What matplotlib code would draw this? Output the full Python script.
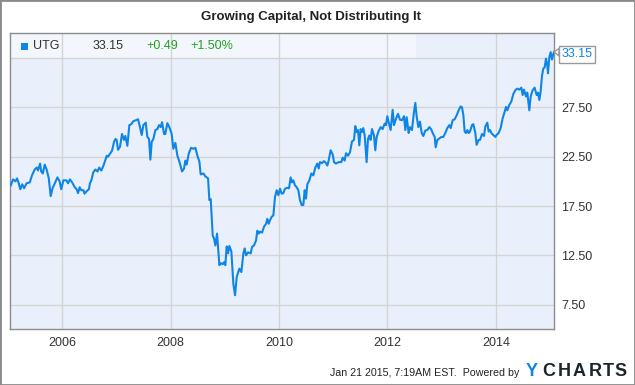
import matplotlib
matplotlib.use("Agg")
import matplotlib.pyplot as plt
from matplotlib.patches import Rectangle

plt.rcParams['font.family'] = ['Liberation Sans', 'DejaVu Sans']

# UTG price, dates as decimal years
dates = [
    2005.05, 2005.09, 2005.135, 2005.165, 2005.195, 2005.225, 2005.26, 2005.295, 2005.34, 2005.40,
    2005.44, 2005.49, 2005.53, 2005.55, 2005.59, 2005.61, 2005.64, 2005.675, 2005.71, 2005.75,
    2005.785, 2005.82, 2005.86, 2005.91, 2005.95, 2005.98, 2006.02, 2006.075, 2006.105, 2006.14,
    2006.18, 2006.23, 2006.265, 2006.29, 2006.32, 2006.35, 2006.39, 2006.41, 2006.45, 2006.49,
    2006.51, 2006.535, 2006.57, 2006.61, 2006.65, 2006.68, 2006.72, 2006.76, 2006.79, 2006.82,
    2006.843, 2006.88, 2006.917, 2006.954, 2006.98, 2007.003, 2007.027, 2007.064, 2007.101, 2007.138,
    2007.163, 2007.2, 2007.237, 2007.274, 2007.31, 2007.36, 2007.397, 2007.433,
    2007.465, 2007.495, 2007.539, 2007.569, 2007.6, 2007.625, 2007.649, 2007.68, 2007.717, 2007.754,
    2007.785, 2007.815, 2007.84, 2007.877, 2007.9, 2007.938, 2007.975, 2008.018, 2008.049, 2008.086,
    2008.123, 2008.16, 2008.209, 2008.246, 2008.27, 2008.295, 2008.332, 2008.375, 2008.418, 2008.455,
    2008.492, 2008.529, 2008.553, 2008.603, 2008.64, 2008.689, 2008.713, 2008.738, 2008.775, 2008.8,
    2008.824, 2008.855, 2008.873, 2008.898, 2008.928, 2008.959, 2008.984, 2009.008, 2009.033, 2009.058,
    2009.082, 2009.119, 2009.156, 2009.187, 2009.218, 2009.242, 2009.267, 2009.304, 2009.34, 2009.365,
    2009.39, 2009.427, 2009.476, 2009.5, 2009.537, 2009.574, 2009.599, 2009.623, 2009.648, 2009.685,
    2009.722, 2009.759, 2009.783, 2009.808, 2009.832,
    2009.863, 2009.894, 2009.924, 2009.955, 2009.986, 2010.017, 2010.047, 2010.078, 2010.109, 2010.152,
    2010.183, 2010.213, 2010.238, 2010.263, 2010.293, 2010.324, 2010.355, 2010.385, 2010.416, 2010.447,
    2010.472, 2010.496, 2010.521, 2010.558, 2010.595, 2010.631, 2010.668, 2010.705, 2010.73, 2010.754,
    2010.791, 2010.828, 2010.865, 2010.89, 2010.914, 2010.951, 2010.988, 2011.013, 2011.05, 2011.099,
    2011.148, 2011.173, 2011.21, 2011.234, 2011.271, 2011.308, 2011.345, 2011.382, 2011.406, 2011.431,
    2011.456, 2011.48, 2011.505, 2011.529, 2011.554, 2011.579, 2011.615, 2011.64, 2011.665, 2011.689,
    2011.714, 2011.751, 2011.775, 2011.8, 2011.837, 2011.874, 2011.911, 2011.948, 2011.972, 2011.997,
    2012.021, 2012.058, 2012.095, 2012.12, 2012.157, 2012.194, 2012.23,
    2012.268, 2012.305, 2012.329, 2012.354, 2012.391, 2012.415, 2012.452, 2012.489, 2012.514, 2012.538,
    2012.569, 2012.6, 2012.631, 2012.661, 2012.698, 2012.735, 2012.772, 2012.809, 2012.834, 2012.871,
    2012.889, 2012.92, 2012.957, 2012.994, 2013.03, 2013.067, 2013.104, 2013.141, 2013.166, 2013.203,
    2013.24, 2013.277, 2013.313, 2013.35, 2013.375, 2013.4, 2013.424, 2013.449, 2013.473, 2013.498,
    2013.522, 2013.559, 2013.584, 2013.621, 2013.645, 2013.682, 2013.707, 2013.744, 2013.781, 2013.805,
    2013.842, 2013.867, 2013.891, 2013.916, 2013.953, 2013.99, 2014.014, 2014.051, 2014.088, 2014.125,
    2014.162, 2014.187, 2014.211, 2014.248, 2014.285, 2014.322, 2014.359, 2014.396, 2014.433, 2014.47,
    2014.494, 2014.519, 2014.556, 2014.58, 2014.617, 2014.642, 2014.679, 2014.715, 2014.752, 2014.777,
    2014.802, 2014.826, 2014.851, 2014.876, 2014.9, 2014.925, 2014.949, 2014.962, 2014.986, 2015.011,
    2015.035, 2015.06, 2015.078,
]
prices = [
    19.6, 20.2, 20.0, 20.3, 19.8, 19.2, 19.7, 19.3, 19.8, 19.9,
    20.6, 21.2, 21.4, 21.1, 21.8, 21.0, 20.8, 21.7, 21.2, 20.3,
    18.5, 19.3, 19.8, 20.4, 20.0, 19.2, 20.1, 20.1, 19.8, 20.2,
    19.9, 19.4, 19.2, 18.8, 19.4, 19.1, 19.1, 18.75, 19.0, 19.2,
    19.8, 20.1, 20.9, 21.2, 21.0, 21.4, 21.1, 21.6, 22.1, 22.6,
    22.5, 22.8, 23.1, 24.0, 24.3, 24.2, 23.2, 23.5, 24.8, 24.2,
    24.6, 23.6, 25.7, 25.8, 26.1, 26.2, 26.3, 25.5,
    24.7, 25.7, 25.95, 24.5, 24.3, 22.2, 24.0, 24.3, 25.2, 25.3,
    25.7, 25.5, 26.0, 24.8, 24.8, 25.9, 25.5, 24.8, 23.3, 23.9,
    22.6, 22.0, 21.0, 21.3, 22.1, 21.7, 22.8, 23.4, 23.3, 23.4,
    22.6, 22.0, 20.7, 20.8, 20.5, 20.3, 18.1, 18.2, 14.5, 14.2,
    13.5, 14.7, 13.3, 11.5, 11.7, 11.6, 11.8, 11.5, 13.4, 12.7,
    13.45, 12.9, 9.6, 8.45, 10.3, 10.7, 11.15, 10.8, 12.7, 13.2,
    12.5, 12.8, 12.7, 13.35, 13.5, 14.0, 15.0, 14.7, 14.9, 14.8,
    15.4, 15.7, 16.2, 15.7, 16.05,
    16.4, 16.55, 18.4, 19.1, 18.6, 19.25, 18.75, 18.8, 19.25, 19.35,
    19.3, 20.4, 19.9, 20.1, 19.6, 19.4, 19.1, 18.1, 17.6, 17.6,
    19.1, 18.25, 19.7, 20.1, 20.8, 20.6, 21.4, 21.8, 21.3, 21.95,
    21.85, 22.05, 21.85, 21.6, 22.1, 23.15, 22.75, 21.95, 21.8, 21.95,
    21.95, 22.4, 22.1, 22.85, 22.6, 22.95, 24.05, 24.2, 25.6, 25.0,
    25.2, 23.65, 25.3, 25.0, 25.4, 24.65, 21.95, 24.3, 24.65, 24.2,
    25.3, 24.65, 23.15, 24.5, 25.1, 25.5, 25.3, 25.85, 25.7, 26.6,
    26.0, 25.2, 27.25, 25.7, 26.35, 26.85, 26.25,
    26.2, 26.6, 25.2, 26.5, 24.9, 25.5, 25.2, 27.05, 27.95, 26.6,
    25.5, 26.05, 24.9, 24.6, 25.15, 25.2, 25.5, 25.25, 24.9, 24.5,
    23.45, 24.2, 24.35, 24.5, 24.5, 24.9, 25.4, 25.7, 25.4, 26.2,
    26.3, 26.7, 27.2, 27.6, 27.5, 26.7, 25.05, 24.9, 25.2, 24.9,
    25.05, 25.7, 25.8, 24.9, 23.7, 24.2, 24.2, 24.8, 24.6, 25.55,
    25.95, 25.05, 25.2, 24.9, 24.7, 24.5, 24.7, 24.9, 25.4, 26.4,
    27.05, 27.55, 27.2, 27.75, 28.1, 28.85, 29.25, 29.4, 29.3, 29.5,
    28.75, 29.3, 28.6, 29.0, 27.2, 28.6, 29.25, 29.5, 28.75, 29.0,
    28.25, 29.1, 30.7, 31.45, 31.55, 32.45, 31.7, 30.95, 32.6, 33.1,
    32.35, 32.9, 33.15,
]

ticker = "UTG"
last_price = "33.15"
change = "+0.49"
change_pct = "+1.50%"
year_ticks = [2006, 2008, 2010, 2012, 2014]
price_ticks = [7.5, 12.5, 17.5, 22.5, 27.5, 32.5]

W, H = 635, 385
line_color = '#0f85e6'
grey = '#333333'

fig = plt.figure(figsize=(W / 100, H / 100), dpi=100)
ax = fig.add_axes([10.3 / W, 1 - 329 / H, 544 / W, 296 / H])
ax.set_facecolor('#eaf0fb')

ax.plot(dates, prices, color=line_color, lw=1.5, zorder=3)
ax.set_xlim(2005.04, 2015.078)
ax.set_ylim(5.03, 35.04)

ax.set_xticks(year_ticks)
ax.set_xticklabels([str(y) for y in year_ticks])
ax.set_yticks(price_ticks)
ax.set_yticklabels(['%.2f' % p for p in price_ticks])
ax.yaxis.tick_right()
ax.tick_params(length=0, labelsize=9, colors=grey)
ax.tick_params(axis='x', pad=6)
ax.tick_params(axis='y', pad=5)
ax.grid(True, color='#d4d4d4', lw=1)
for s in ax.spines.values():
    s.set_color('#8c8c8c')
    s.set_linewidth(1)

# legend strip across the top
ax.add_patch(Rectangle((0, 1 - 25.3 / 296), 406 / 544, 25.3 / 296, transform=ax.transAxes,
                       fc='white', alpha=0.45, lw=0, zorder=1))
ax.add_patch(Rectangle((10.5 / 544, 1 - 17.5 / 296), 7 / 544, 7 / 296, transform=ax.transAxes,
                       fc=line_color, lw=0, zorder=4))
ty = 1 - 13.5 / 296
ax.text(23 / 544, ty, ticker, transform=ax.transAxes, fontsize=9, color=grey, va='center')
ax.text(82.5 / 544, ty, last_price, transform=ax.transAxes, fontsize=9, color=grey, va='center')
ax.text(136.5 / 544, ty, change, transform=ax.transAxes, fontsize=9, color='#22a022', va='center')
ax.text(180 / 544, ty, change_pct, transform=ax.transAxes, fontsize=9, color='#22a022', va='center')

# last value callout on the right axis
ax.annotate(last_price, xy=(1.0, prices[-1]), xycoords=('axes fraction', 'data'),
            xytext=(5.5, -1.8), textcoords='offset points', fontsize=9, color=line_color,
            ha='left', va='center', annotation_clip=False, zorder=6,
            bbox=dict(boxstyle='square,pad=0.2', fc='white', ec='#9a9a9a', lw=1),
            arrowprops=dict(arrowstyle='wedge,tail_width=0.6', fc='white', ec='#9a9a9a',
                            lw=1, shrinkA=0, shrinkB=0))

fig.text(311 / W, 1 - 17 / H, 'Growing Capital, Not Distributing It', ha='center', va='center',
         fontsize=9.5, fontweight='bold', color='#222222')

fig.text(519 / W, 1 - 376 / H, 'Jan 21 2015, 7:19AM EST.  Powered by', ha='right',
         va='baseline', fontsize=7.7, color='#222222')
logo_letters = ['Y', 'C', 'H', 'A', 'R', 'T', 'S']
logo_x = [532, 549, 564, 579, 595, 608, 620.5]
for ch, lx in zip(logo_letters, logo_x):
    fig.text(lx / W, 1 - 376.5 / H, ch, ha='center', va='baseline', fontsize=13,
             fontweight='bold', color=line_color if ch == 'Y' else '#1c2430')

fig.add_artist(Rectangle((0, 0), 1, 1, transform=fig.transFigure, fill=False,
                         ec='#8a8a8a', lw=2))

fig.savefig('out.png', dpi=100)
